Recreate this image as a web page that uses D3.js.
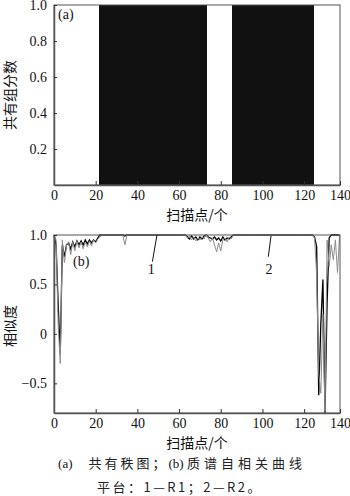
<!DOCTYPE html>
<html>
<head>
<meta charset="utf-8">
<script src="https://cdn.jsdelivr.net/npm/d3@7"></script>
<style>
  body { margin: 0; background: #fff; }
  svg { display: block; }
  .num { font-family: "Liberation Serif", "DejaVu Serif", serif; font-size: 14px; fill: #111; }
  .cjk { font-family: "Noto Sans CJK SC", sans-serif; font-size: 14px; fill: #111; }
</style>
</head>
<body>
<div id="vis"></div>
<script>
const W = 350, H = 496;

// scan point index = position in the arrays below (0..137)
// (a) shared component flag per scan point
const sharedComp = [
  0,0,0,0,0,0,0,0,0,0,
  0,0,0,0,0,0,0,0,0,0,
  0,0,1,1,1,1,1,1,1,1,
  1,1,1,1,1,1,1,1,1,1,
  1,1,1,1,1,1,1,1,1,1,
  1,1,1,1,1,1,1,1,1,1,
  1,1,1,1,1,1,1,1,1,1,
  1,1,1,1,0,0,0,0,0,0,
  0,0,0,0,0,0,1,1,1,1,
  1,1,1,1,1,1,1,1,1,1,
  1,1,1,1,1,1,1,1,1,1,
  1,1,1,1,1,1,1,1,1,1,
  1,1,1,1,1,0,0,0,0,0,
  0,0,0,0,0,0,0,0
];

// (b) autocorrelation, platform 1 (R1)
const simR1 = [
  1.00,0.90,0.30,-0.20,0.90,0.78,0.90,0.92,0.86,0.93,
  0.88,0.94,0.90,0.94,0.90,0.95,0.91,0.95,0.92,0.95,
  0.93,0.97,1.00,1.00,1.00,1.00,1.00,1.00,1.00,1.00,
  1.00,1.00,1.00,1.00,0.99,1.00,1.00,1.00,1.00,1.00,
  1.00,1.00,1.00,1.00,1.00,1.00,1.00,1.00,1.00,1.00,
  1.00,1.00,1.00,1.00,1.00,1.00,1.00,1.00,1.00,1.00,
  1.00,1.00,1.00,1.00,0.98,0.96,0.99,0.96,0.98,0.95,
  0.98,0.96,0.99,1.00,0.98,0.97,0.96,0.98,0.95,0.97,
  0.94,0.98,0.95,0.97,0.96,0.98,1.00,1.00,1.00,1.00,
  1.00,1.00,1.00,1.00,1.00,1.00,1.00,1.00,1.00,1.00,
  1.00,1.00,1.00,1.00,1.00,1.00,1.00,1.00,1.00,1.00,
  1.00,1.00,1.00,1.00,1.00,1.00,1.00,1.00,1.00,1.00,
  1.00,1.00,1.00,1.00,1.00,0.98,0.88,-0.62,0.10,0.55,
  -0.80,0.30,0.97,1.00,1.00,1.00,1.00,1.00
];

// (b) autocorrelation, platform 2 (R2)
const simR2 = [
  1.00,0.95,0.10,-0.30,0.95,0.72,0.90,0.93,0.80,0.93,
  0.84,0.94,0.87,0.93,0.86,0.93,0.88,0.94,0.89,0.95,
  0.92,0.96,0.98,1.00,1.00,1.00,1.00,1.00,1.00,1.00,
  1.00,1.00,1.00,1.00,0.90,1.00,1.00,1.00,1.00,1.00,
  1.00,1.00,1.00,1.00,1.00,1.00,1.00,1.00,1.00,1.00,
  1.00,1.00,1.00,1.00,1.00,1.00,1.00,1.00,1.00,1.00,
  1.00,1.00,1.00,1.00,0.97,0.99,0.95,0.98,0.94,0.97,
  0.95,0.98,0.96,1.00,0.97,0.93,0.97,0.90,0.83,0.92,
  0.84,0.95,0.97,0.93,0.98,0.96,1.00,1.00,1.00,1.00,
  1.00,1.00,1.00,1.00,1.00,1.00,1.00,1.00,1.00,1.00,
  1.00,1.00,1.00,1.00,1.00,1.00,1.00,1.00,1.00,1.00,
  1.00,1.00,1.00,1.00,1.00,1.00,1.00,1.00,1.00,1.00,
  1.00,1.00,1.00,1.00,1.00,0.97,0.60,-0.40,-0.60,0.20,
  -0.78,0.95,0.68,0.90,0.75,0.95,0.62,1.00
];

const xTicks = [0, 20, 40, 60, 80, 100, 120];
const xEndLabel = "140";
const xMax = 137.2; // right frame edge, labelled 140
const yTicksA = [0.2, 0.4, 0.6, 0.8, 1.0];
const yTicksB = [-0.5, 0, 0.5, 1.0];

// curve labels 1 and 2: text position and leader line (scan, value)
const curveLabels = ["1", "2"];
const labelPos = [[46.6, 0.655], [103.1, 0.655]];
const leaderLines = [[[49.4, 1.0], [47.2, 0.73]], [[104.1, 0.99], [102.8, 0.78]]];

const svg = d3.select("#vis").append("svg")
  .attr("width", W).attr("height", H);

const left = 54, right = 340;
const x = d3.scaleLinear().domain([0, xMax]).range([left, right]);
const yA = d3.scaleLinear().domain([0, 1]).range([185, 5]);
const yB = d3.scaleLinear().domain([-0.8, 1]).range([413, 235]);

function frame(y) {
  const [y0, y1] = y.range();
  svg.append("rect")
    .attr("x", left).attr("y", y1)
    .attr("width", right - left).attr("height", y0 - y1)
    .attr("fill", "none").attr("stroke", "#555").attr("stroke-width", 1);
}

function axes(y, yTicks, yFmt) {
  const y0 = y.range()[0];
  const gx = svg.append("g").attr("transform", `translate(0,${y0})`)
    .call(d3.axisBottom(x)
      .tickValues(xTicks.concat([xMax]))
      .tickFormat(d => d === xMax ? xEndLabel : d)
      .tickSizeInner(-4).tickSizeOuter(0).tickPadding(5));
  const gy = svg.append("g").attr("transform", `translate(${left},0)`)
    .call(d3.axisLeft(y).tickValues(yTicks).tickFormat(yFmt)
      .tickSizeInner(-3).tickSizeOuter(0).tickPadding(7));
  [gx, gy].forEach(g => {
    g.select(".domain").attr("stroke", "#555").attr("stroke-width", 1.5);
    g.selectAll(".tick line").attr("stroke", "#333");
    g.selectAll(".tick text").attr("class", "num").attr("font-family", null).attr("font-size", null);
  });
}

// ---- (a) shared rank plot ----
svg.append("g").attr("shape-rendering", "crispEdges")
  .selectAll("rect")
  .data(sharedComp.map((v, i) => ({s: i, v: v})).filter(d => d.v > 0))
  .join("rect")
  .attr("x", d => x(d.s - 0.5))
  .attr("width", d => x(d.s + 0.5) - x(d.s - 0.5))
  .attr("y", d => yA(d.v))
  .attr("height", d => yA(0) - yA(d.v))
  .attr("fill", "#111");

frame(yA);
axes(yA, yTicksA, d3.format(".1f"));

svg.append("text").attr("class", "num")
  .attr("x", 58).attr("y", 19).text("(a)");

svg.append("text").attr("class", "cjk")
  .attr("transform", `translate(15,${(yA(0) + yA(1)) / 2}) rotate(-90)`)
  .attr("text-anchor", "middle").text("共有组分数");

svg.append("text").attr("class", "cjk")
  .attr("x", (left + right) / 2).attr("y", 220)
  .attr("text-anchor", "middle").text("扫描点/个");

// ---- (b) autocorrelation ----
const line = y => d3.line().x((d, i) => x(i)).y(d => y(d));

svg.append("path").datum(simR1)
  .attr("d", line(yB))
  .attr("fill", "none").attr("stroke", "#000").attr("stroke-width", 1.3);

svg.append("path").datum(simR2)
  .attr("d", line(yB))
  .attr("fill", "none").attr("stroke", "#8c8c8c").attr("stroke-width", 1);

frame(yB);
axes(yB, yTicksB, d => d === 0 ? "0" : d3.format(".1f")(d));

// leader lines and labels
svg.append("g").selectAll("line")
  .data(leaderLines)
  .join("line")
  .attr("x1", d => x(d[0][0])).attr("y1", d => yB(d[0][1]))
  .attr("x2", d => x(d[1][0])).attr("y2", d => yB(d[1][1]))
  .attr("stroke", "#111").attr("stroke-width", 1);

svg.append("g").selectAll("text")
  .data(curveLabels)
  .join("text")
  .attr("class", "num")
  .attr("x", (d, i) => x(labelPos[i][0]))
  .attr("y", (d, i) => yB(labelPos[i][1]))
  .attr("dy", "0.35em")
  .attr("text-anchor", "middle")
  .text(d => d);

svg.append("text").attr("class", "num")
  .attr("x", 73).attr("y", 266).text("(b)");

svg.append("text").attr("class", "cjk")
  .attr("transform", `translate(15,${326}) rotate(-90)`)
  .attr("text-anchor", "middle").text("相似度");

svg.append("text").attr("class", "cjk")
  .attr("x", (left + right) / 2).attr("y", 448)
  .attr("text-anchor", "middle").text("扫描点/个");

// caption
const cap1 = svg.append("text").attr("class", "cjk")
  .attr("x", 182).attr("y", 468).attr("text-anchor", "middle")
  .style("font-size", "13px").style("fill", "#222");
cap1.append("tspan").attr("class", "num").style("font-size", "13px").text("(a)");
cap1.append("tspan").attr("dx", 16).style("letter-spacing", "3px").text("共有秩图；");
cap1.append("tspan").attr("class", "num").style("font-size", "13px").text("(b) ");
cap1.append("tspan").style("letter-spacing", "4px").text("质谱自相关曲线");

svg.append("text").attr("class", "cjk")
  .attr("x", 180).attr("y", 492).attr("text-anchor", "middle")
  .style("font-size", "13px").style("fill", "#222").style("letter-spacing", "2.5px")
  .text("平台：1—R1；2—R2。");
</script>
</body>
</html>
